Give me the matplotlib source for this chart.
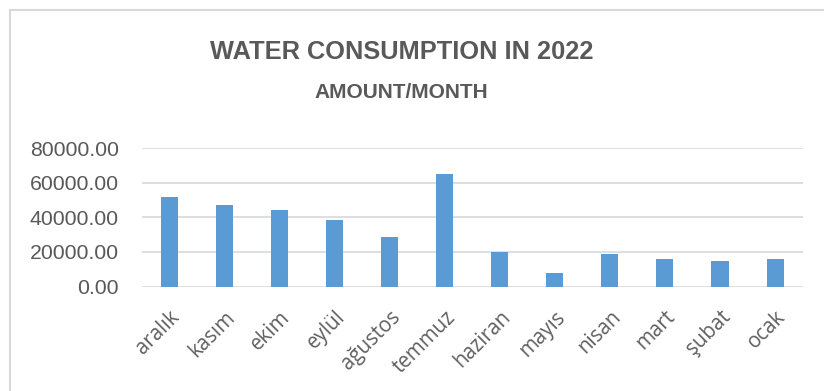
import matplotlib
matplotlib.use("Agg")
import matplotlib.pyplot as plt
from matplotlib.lines import Line2D
from matplotlib.transforms import ScaledTranslation

months = ["aralık", "kasım", "ekim", "eylül", "ağustos", "temmuz",
          "haziran", "mayıs", "nisan", "mart", "şubat", "ocak"]
consumption = [51800, 47000, 44500, 38500, 28800, 65300,
               19900, 7700, 18600, 15700, 14500, 15700]
y_ticks = [0, 20000, 40000, 60000, 80000]

W, H, DPI = 824, 391, 100
fig = plt.figure(figsize=(W / DPI, H / DPI), dpi=DPI)
fig.patch.set_facecolor("white")

# plot area in pixel coordinates
left, right, top, bottom = 141.5, 802.6, 148.3, 286.5
ax = fig.add_axes([left / W, 1 - bottom / H, (right - left) / W, (bottom - top) / H])

x = range(len(months))
ax.bar(x, consumption, width=0.31, color="#5b9bd5", zorder=3)
ax.set_xlim(-0.5, len(months) - 0.5)
ax.set_ylim(0, 80000)
ax.set_yticks(y_ticks)
ax.set_yticklabels([f"{v:.2f}" for v in y_ticks], fontfamily="Liberation Sans",
                   fontsize=15.3, color="#595959")
ax.set_xticks(list(x))
ax.set_xticklabels(months, rotation=45, ha="right", rotation_mode="anchor",
                   fontfamily="Open Sans", fontsize=14.8, color="#606060")
shift = ScaledTranslation(6 / DPI, -1 / DPI, fig.dpi_scale_trans)
for lbl in ax.get_xticklabels():
    lbl.set_transform(lbl.get_transform() + shift)
ax.tick_params(axis="y", length=0, pad=16.5)
ax.tick_params(axis="x", length=0, pad=14.5)
ax.grid(axis="y", color="#d9d9d9", linewidth=1.2, zorder=0)
for s in ax.spines.values():
    s.set_visible(False)

fig.text(401.5 / W, 1 - 52 / H, "WATER CONSUMPTION IN 2022", ha="center", va="center",
         fontfamily="Liberation Sans", fontweight="bold", fontsize=18.3, color="#595959")
fig.text(401.5 / W, 1 - 92 / H, "AMOUNT/MONTH", ha="center", va="center",
         fontfamily="Liberation Sans", fontweight="bold", fontsize=15, color="#595959")

# chart frame edges
fig.add_artist(Line2D([10 / W, 1], [1 - 10 / H, 1 - 10 / H], transform=fig.transFigure,
                      color="#d9d9d9", linewidth=1.5))
fig.add_artist(Line2D([10 / W, 10 / W], [0, 1 - 10 / H], transform=fig.transFigure,
                      color="#d9d9d9", linewidth=1.5))

fig.savefig("out.png", dpi=DPI)
